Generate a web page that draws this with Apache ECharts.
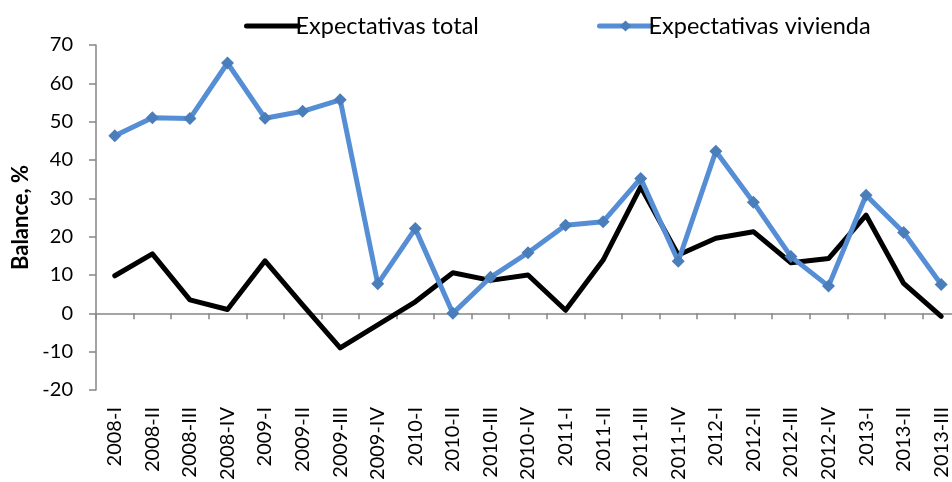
<!DOCTYPE html>
<html>
<head>
<meta charset="utf-8">
<script src="https://cdn.jsdelivr.net/npm/echarts@6/dist/echarts.min.js"></script>
<style>
html,body{margin:0;padding:0;background:#fff;}
#chart{width:952px;height:482px;}
</style>
</head>
<body>
<div id="chart"></div>
<script>
const categories = ['2008-I','2008-II','2008-III','2008-IV','2009-I','2009-II','2009-III','2009-IV','2010-I','2010-II','2010-III','2010-IV','2011-I','2011-II','2011-III','2011-IV','2012-I','2012-II','2012-III','2012-IV','2013-I','2013-II','2013-III'];
const expectativasTotal = [9.8, 15.5, 3.5, 1.0, 13.7, 2.2, -9.0, -3.0, 3.0, 10.6, 8.6, 10.0, 0.8, 13.9, 33.0, 15.2, 19.6, 21.3, 13.2, 14.3, 25.6, 7.8, -0.8];
const expectativasVivienda = [46.3, 51.0, 50.8, 65.3, 50.9, 52.7, 55.7, 7.7, 22.1, 0.0, 9.4, 15.8, 23.0, 23.9, 35.2, 13.6, 42.3, 29.0, 14.8, 7.1, 30.8, 21.1, 7.5];
const yTicks = {min: -20, max: 70, interval: 10};
const seriesNames = ['Expectativas total', 'Expectativas vivienda'];

const FONT = 'Lato';
const chart = echarts.init(document.getElementById('chart'), null, {renderer: 'canvas'});
chart.setOption({
  animation: false,
  backgroundColor: '#ffffff',
  textStyle: {fontFamily: FONT},
  legend: [
    {data: [seriesNames[0]], left: 239, top: 9, itemWidth: 52, itemHeight: 14, itemGap: 2,
     itemStyle: {opacity: 0},
     lineStyle: {width: 5, cap: 'round'},
     textStyle: {fontFamily: FONT, fontSize: 23.5, color: '#000', padding: [0, 0, 0, -8]}},
    {data: [seriesNames[1]], left: 592, top: 9, itemWidth: 52, itemHeight: 14, itemGap: 2,
     lineStyle: {width: 5, cap: 'round'},
     textStyle: {fontFamily: FONT, fontSize: 23.5, color: '#000', padding: [0, 0, 0, -8]}}
  ],
  grid: {left: 96, top: 45, bottom: 92, width: 864, containLabel: false, outerBoundsMode: 'none'},
  xAxis: [
    {type: 'category', data: categories, position: 'bottom', boundaryGap: true,
     axisLine: {show: false, onZero: false}, axisTick: {show: false},
     axisLabel: {rotate: 90, margin: 17, fontFamily: FONT, fontSize: 20, color: '#000', interval: 0}},
    {type: 'category', data: categories, position: 'top', boundaryGap: true,
     axisLine: {show: true, onZero: true, lineStyle: {color: '#868686', width: 1.5}},
     axisTick: {show: true, inside: true, length: 6, interval: 0, lineStyle: {color: '#868686', width: 1.5}},
     axisLabel: {show: false}, splitLine: {show: false}}
  ],
  yAxis: {
    type: 'value', min: yTicks.min, max: yTicks.max, interval: yTicks.interval,
    name: 'Balance, %', nameLocation: 'middle', nameGap: 62, nameRotate: 90,
    nameTextStyle: {fontFamily: FONT, fontSize: 22, fontWeight: 'bold', color: '#000'},
    axisLine: {show: true, onZero: false, lineStyle: {color: '#868686', width: 1.5}},
    axisTick: {show: true, length: 7, lineStyle: {color: '#868686', width: 1.5}},
    axisLabel: {margin: 23, fontFamily: FONT, fontSize: 20, color: '#000'},
    splitLine: {show: false}
  },
  series: [
    {name: seriesNames[0], type: 'line', data: expectativasTotal, xAxisIndex: 0,
     symbol: 'none', color: '#000000',
     lineStyle: {color: '#000000', width: 5, join: 'round', cap: 'round'}},
    {name: seriesNames[1], type: 'line', data: expectativasVivienda, xAxisIndex: 0,
     symbol: 'diamond', symbolSize: 13, showSymbol: true, color: '#4A7EBB',
     itemStyle: {color: '#4A7EBB'},
     lineStyle: {color: '#558ED5', width: 5, join: 'round', cap: 'round'}}
  ]
});
</script>
</body>
</html>
